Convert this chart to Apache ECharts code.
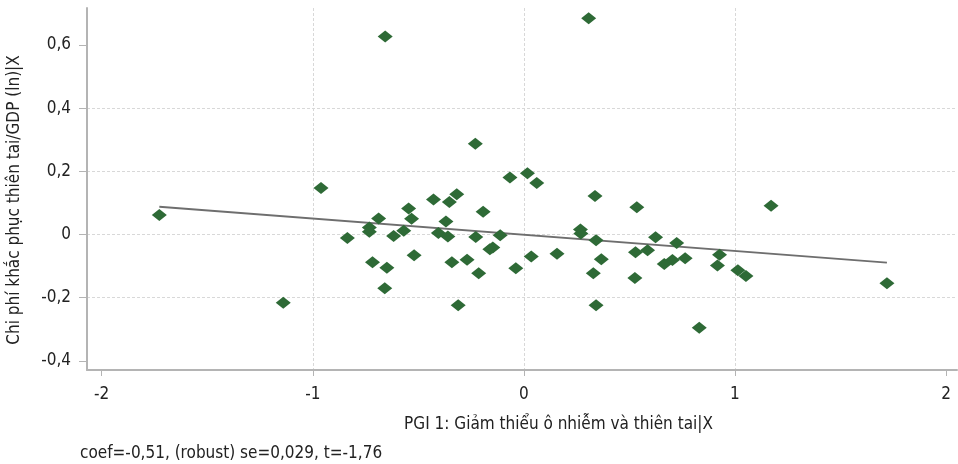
<!DOCTYPE html>
<html><head><meta charset="utf-8">
<script src="https://cdn.jsdelivr.net/npm/echarts@6/dist/echarts.min.js"></script>
<style>html,body{margin:0;padding:0;background:#fff}#c{width:958px;height:464px}</style>
</head><body><div id="c"></div>
<script>
// ---- data ----
const xTickValues = [-2, -1, 0, 1, 2];
const yTickValues = [-0.4, -0.2, 0, 0.2, 0.4, 0.6];
const pointX = [
  -1.727, -1.140, -0.961, -0.657, 0.307, -0.230, 1.171, 1.720, 0.831, -0.311, 0.342,
  -0.836, -0.732, -0.732, -0.688, -0.717, -0.649, -0.659, -0.617, -0.569, -0.546, -0.532,
  -0.520, -0.428, -0.353, -0.318, -0.369, -0.405, -0.360, -0.341, -0.269, -0.214, -0.228,
  -0.193, -0.161, -0.147, -0.112, -0.066, 0.017, 0.061, -0.038, 0.035, 0.157, 0.337,
  0.268, 0.270, 0.342, 0.367, 0.329, 0.535, 0.529, 0.526, 0.624, 0.724, 0.586, 0.665,
  0.704, 0.764, 0.927, 0.917, 1.014, 1.052
];
const pointY = [
  0.062, -0.216, 0.147, 0.627, 0.684, 0.287, 0.091, -0.154, -0.295, -0.224, -0.224,
  -0.011, 0.022, 0.009, 0.051, -0.088, -0.105, -0.170, -0.005, 0.012, 0.082, 0.050,
  -0.066, 0.111, 0.103, 0.127, 0.041, 0.005, -0.006, -0.088, -0.080, -0.123, -0.008,
  0.072, -0.047, -0.041, -0.002, 0.180, 0.194, 0.163, -0.107, -0.070, -0.061, 0.122,
  0.016, 0.003, -0.018, -0.078, -0.123, 0.086, -0.056, -0.138, -0.009, -0.027, -0.050, -0.093,
  -0.081, -0.075, -0.064, -0.098, -0.113, -0.131
];
const fitX = [-1.727, 1.720];
const fitY = [0.088, -0.089];
const xAxisTitle = 'PGI 1: Giảm thiểu ô nhiễm và thiên tai|X';
const yAxisTitle = 'Chi phí khắc phục thiên tai/GDP (ln)|X';
const footnote = 'coef=-0,51, (robust) se=0,029, t=-1,76';

// ---- chart ----
const FONT = "'DejaVu Sans Condensed', 'Liberation Sans Narrow', sans-serif";
const TXT = '#222222';
const fmt = v => String(v).replace('.', ',');
const scatterData = pointX.map((x, i) => [x, pointY[i]]);
const fitData = fitX.map((x, i) => [x, fitY[i]]);

const chart = echarts.init(document.getElementById('c'), null, {renderer: 'canvas'});
const axisLineStyle = {show: true, lineStyle: {color: '#b4b4b4', width: 2}};
const splitLineStyle = {show: true, showMinLine: false, showMaxLine: false,
  lineStyle: {color: '#d8d8d8', width: 1, type: [3, 2]}};
chart.setOption({
  animation: false,
  backgroundColor: '#ffffff',
  grid: {left: 87, right: 1, top: 8, bottom: 94, containLabel: false},
  xAxis: {
    type: 'value', min: -2.0696, max: 2.052,
    axisLine: Object.assign({onZero: false}, axisLineStyle),
    axisTick: {show: true, length: 6, customValues: xTickValues, lineStyle: {color: '#b4b4b4', width: 1}},
    axisLabel: {customValues: xTickValues, formatter: fmt, margin: 16, color: TXT, fontFamily: FONT, fontSize: 17},
    splitLine: splitLineStyle
  },
  yAxis: {
    type: 'value', min: -0.4288, max: 0.7168,
    axisLine: Object.assign({onZero: false}, axisLineStyle),
    axisTick: {show: true, length: 8, customValues: yTickValues, lineStyle: {color: '#b4b4b4', width: 1}},
    axisLabel: {customValues: yTickValues, formatter: fmt, margin: 16, color: TXT, fontFamily: FONT, fontSize: 17},
    splitLine: splitLineStyle
  },
  graphic: [
    {type: 'text', x: 558.5, y: 425, style: {text: xAxisTitle, font: '17px ' + FONT, fill: TXT, align: 'center', verticalAlign: 'middle'}},
    {type: 'text', x: 15, y: 200, rotation: Math.PI / 2, style: {text: yAxisTitle, font: '17px ' + FONT, fill: TXT, align: 'center', verticalAlign: 'middle'}},
    {type: 'text', x: 80, y: 454, style: {text: footnote, font: '17px ' + FONT, fill: TXT, align: 'left', verticalAlign: 'middle'}}
  ],
  series: [
    {type: 'line', data: fitData, symbol: 'none', silent: true,
     lineStyle: {color: '#6e6e6e', width: 2}, z: 2},
    {type: 'scatter', data: scatterData, symbol: 'diamond', symbolSize: [15, 12],
     itemStyle: {color: '#2e6a36', opacity: 1}, z: 3}
  ]
});
</script></body></html>
